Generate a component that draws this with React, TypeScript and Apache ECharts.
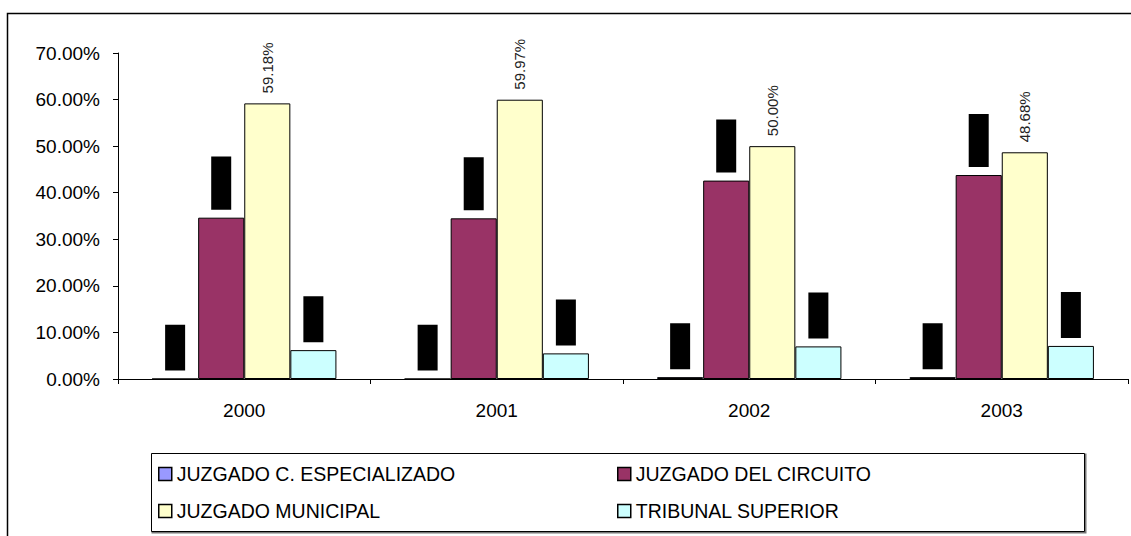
import React, { useEffect, useRef } from "react";
import * as echarts from "echarts";

const categories = ["2000", "2001", "2002", "2003"];
const seriesNames = [
  "JUZGADO C. ESPECIALIZADO",
  "JUZGADO DEL CIRCUITO",
  "JUZGADO MUNICIPAL",
  "TRIBUNAL SUPERIOR",
];
const especializado = [0, 0, 0.4, 0.4];
const circuito = [34.64, 34.5, 42.6, 43.8];
const municipal = [59.18, 59.97, 50.0, 48.68];
const tribunal = [6.2, 5.5, 7.0, 7.1];
const yTicks = [0, 10, 20, 30, 40, 50, 60, 70];

const colors = ["#9999FF", "#993366", "#FFFFCC", "#CCFFFF"];
const FONT = "'Liberation Sans', Arial, sans-serif";

const fmt = (v: number) => v.toFixed(2) + "%";

const boxLabel = {
  show: true,
  position: "top",
  distance: 8,
  rotate: 90,
  align: "left",
  verticalAlign: "middle",
  color: "#000",
  backgroundColor: "#000",
  fontFamily: FONT,
  fontSize: 13,
  lineHeight: 14,
  padding: [3, 4.5, 3, 4.5],
  formatter: (p: any) => fmt(p.value),
};

const textLabel = {
  show: true,
  position: "top",
  distance: 10,
  rotate: 90,
  align: "left",
  verticalAlign: "middle",
  color: "#222",
  fontFamily: FONT,
  fontSize: 15,
  formatter: (p: any) => fmt(p.value),
};

export default function App() {
  const ref = useRef<HTMLDivElement>(null);
  useEffect(() => {
    if (!ref.current) return;
    const chart = echarts.init(ref.current, undefined, { renderer: "svg" });
    const mk = (name: string, data: number[], color: string, label: any) => ({
      name,
      type: "bar",
      data,
      barGap: "0%",
      barCategoryGap: "27%",
      itemStyle: { color, borderColor: "#000", borderWidth: 1 },
      label,
    });
    chart.setOption({
      animation: false,
      backgroundColor: "#fff",
      textStyle: { fontFamily: FONT },
      grid: { left: 118, right: 3, top: 53, bottom: 157, containLabel: false },
      xAxis: {
        type: "category",
        data: categories,
        axisLine: { lineStyle: { color: "#000", width: 1 } },
        axisTick: { show: true, length: 5, lineStyle: { color: "#000" } },
        axisLabel: { color: "#000", fontSize: 19, fontFamily: FONT, margin: 22 },
      },
      yAxis: {
        type: "value",
        min: yTicks[0],
        max: yTicks[yTicks.length - 1],
        interval: 10,
        axisLine: { show: true, lineStyle: { color: "#000", width: 1 } },
        axisTick: { show: true, length: 5, lineStyle: { color: "#000" } },
        splitLine: { show: false },
        axisLabel: {
          color: "#000",
          fontSize: 19,
          fontFamily: FONT,
          margin: 18,
          formatter: (v: number) => fmt(v),
        },
      },
      legend: [
        {
          data: [seriesNames[0], seriesNames[2]],
          orient: "vertical",
          left: 158,
          top: 464,
          padding: 0,
          icon: "rect",
          itemWidth: 13,
          itemHeight: 13,
          itemGap: 17,
          itemStyle: { borderColor: "#000", borderWidth: 1.5 },
          textStyle: { color: "#000", fontSize: 19.5, fontFamily: FONT, lineHeight: 20 },
        },
        {
          data: [seriesNames[1], seriesNames[3]],
          orient: "vertical",
          left: 617,
          top: 464,
          padding: 0,
          icon: "rect",
          itemWidth: 13,
          itemHeight: 13,
          itemGap: 17,
          itemStyle: { borderColor: "#000", borderWidth: 1.5 },
          textStyle: { color: "#000", fontSize: 19.5, fontFamily: FONT, lineHeight: 20 },
        },
      ],
      graphic: [
        {
          type: "rect",
          shape: { x: 7.5, y: 13.5, width: 1300, height: 700 },
          style: { fill: "none", stroke: "#000", lineWidth: 1.5 },
          silent: true,
          z: -1,
        },
        {
          type: "rect",
          shape: { x: 152.5, y: 454.5, width: 933, height: 78 },
          style: { fill: "none", stroke: "#777", lineWidth: 2 },
          silent: true,
          z: -1,
        },
        {
          type: "rect",
          shape: { x: 151.5, y: 453.5, width: 933, height: 78 },
          style: { fill: "#fff", stroke: "#000", lineWidth: 1 },
          silent: true,
          z: -1,
        },
      ],
      series: [
        mk(seriesNames[0], especializado, colors[0], boxLabel),
        mk(seriesNames[1], circuito, colors[1], boxLabel),
        mk(seriesNames[2], municipal, colors[2], textLabel),
        mk(seriesNames[3], tribunal, colors[3], boxLabel),
      ],
    });
    return () => chart.dispose();
  }, []);
  return (
    <div
      ref={ref}
      style={{ position: "absolute", left: 0, top: 0, width: 1131, height: 536 }}
    />
  );
}
